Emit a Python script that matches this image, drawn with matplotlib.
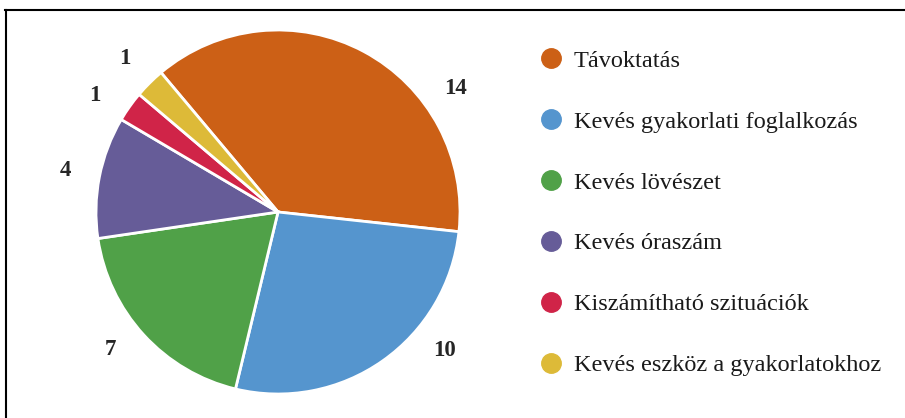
import matplotlib
matplotlib.use("Agg")
import matplotlib.pyplot as plt
from matplotlib.lines import Line2D
import numpy as np

# data
categories = ["Távoktatás", "Kevés gyakorlati foglalkozás", "Kevés lövészet",
              "Kevés óraszám", "Kiszámítható szituációk", "Kevés eszköz a gyakorlatokhoz"]
counts = [14, 10, 7, 4, 1, 1]
colors = ["#CC6016", "#5595CE", "#50A148", "#665C98", "#D02448", "#DDBA38"]
# extra rotation (deg) for the value labels, like the original layout
label_shift = [-27, 15, -3, 0, 3, 0]

plt.rcParams['font.family'] = ['Liberation Serif', 'DejaVu Serif']

W, H = 905, 418
fig = plt.figure(figsize=(W / 100, H / 100), dpi=100)

cx, cy, r = 278, 212, 182
ax = fig.add_axes([(cx - r) / W, (H - cy - r) / H, 2 * r / W, 2 * r / H])
wedges, texts = ax.pie(counts, colors=colors, startangle=130, counterclock=False,
                       labels=[str(c) for c in counts], labeldistance=1.19,
                       wedgeprops=dict(edgecolor="white", linewidth=2),
                       textprops=dict(fontsize=16.5, fontweight="bold", color="#262626"))
ax.set_xlim(-1, 1)
ax.set_ylim(-1, 1)
ax.set_aspect("equal")

for w, t, s in zip(wedges, texts, label_shift):
    ang = np.deg2rad((w.theta1 + w.theta2) / 2 + s)
    t.set_position((1.19 * np.cos(ang), 1.19 * np.sin(ang)))
    t.set_ha("center")
    t.set_va("center")
    t.set_clip_on(False)

handles = [Line2D([], [], marker="o", linestyle="", markersize=14,
                  markerfacecolor=c, markeredgecolor=c) for c in colors]
fig.legend(handles, categories, loc="upper left", bbox_to_anchor=(530 / W, 1 - 40 / H),
           frameon=False, fontsize=17.5, labelspacing=1.6, handletextpad=0.5,
           handlelength=0.9, borderaxespad=0, labelcolor="#1a1a1a")

# frame (top and left edge visible)
fig.add_artist(Line2D([5 / W, 1], [1 - 10 / H, 1 - 10 / H], color="black", linewidth=1.5))
fig.add_artist(Line2D([6 / W, 6 / W], [0, 1 - 10 / H], color="black", linewidth=1.5))

fig.savefig("out.png", dpi=100)
